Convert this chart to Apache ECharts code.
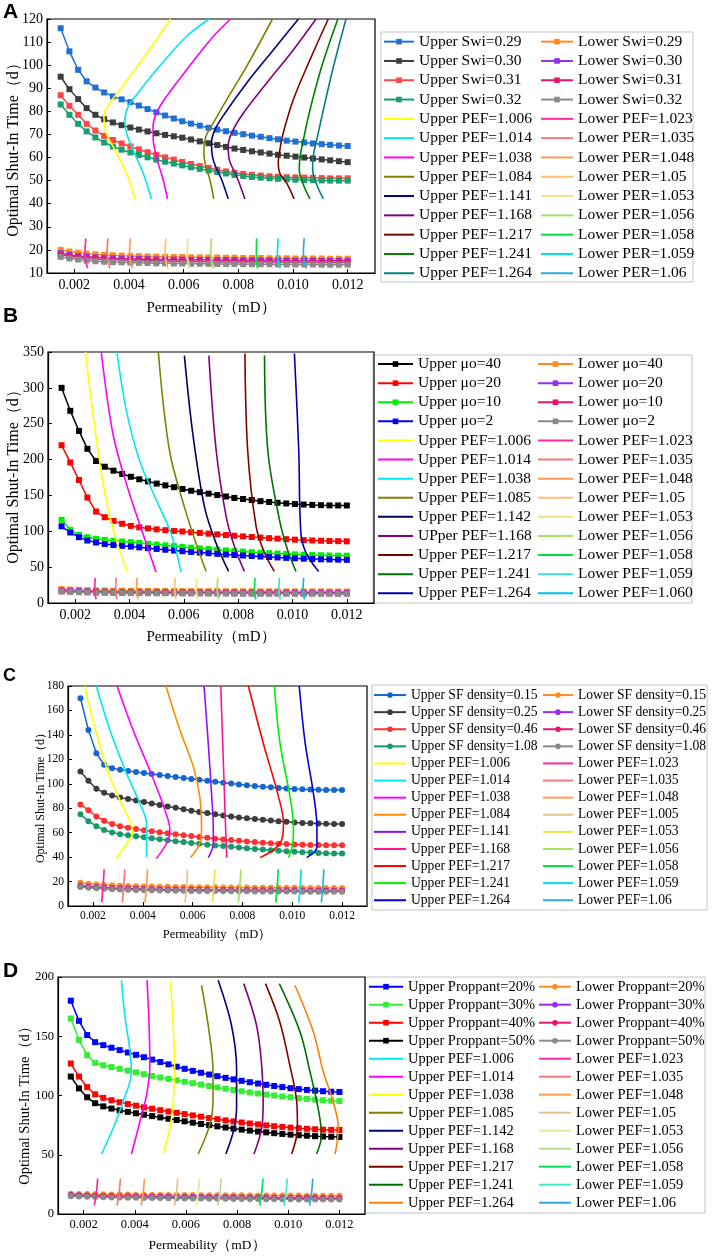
<!DOCTYPE html>
<html><head><meta charset="utf-8">
<script src="https://cdn.jsdelivr.net/npm/echarts@6/dist/echarts.min.js"></script>
<style>
html,body{margin:0;padding:0;background:#fff;}
body{width:713px;height:1257px;position:relative;overflow:hidden;}
.p{position:absolute;left:0;width:713px;}
</style></head><body>
<div id="pA" class="p" style="top:0;height:320px"></div>
<div id="pB" class="p" style="top:300px;height:345px"></div>
<div id="pC" class="p" style="top:610px;height:335px"></div>
<div id="pD" class="p" style="top:915px;height:342px"></div>
<script>
// ---------- shared x positions of the marker series ----------
const xPts = [0.0015,0.00182,0.00214,0.00245,0.00277,0.00309,0.00341,0.00373,0.00405,0.00436,
  0.00468,0.0050,0.00532,0.00564,0.00595,0.00627,0.00659,0.00691,0.00723,0.00755,
  0.00786,0.00818,0.0085,0.00882,0.00914,0.00945,0.00977,0.01009,0.01041,0.01073,
  0.01105,0.01136,0.01168,0.012];
const xTickVals = [0.002,0.004,0.006,0.008,0.010,0.012];

// ================= Panel A =================
const aUpNames = ['Upper Swi=0.29','Upper Swi=0.30','Upper Swi=0.31','Upper Swi=0.32'];
const aLoNames = ['Lower Swi=0.29','Lower Swi=0.30','Lower Swi=0.31','Lower Swi=0.32'];
const aUp029 = [116,106,98,93,90.3,88.2,86.5,85.2,84.0,82.5, 81.0,79.6,78.2,76.9,75.7,74.7,73.8,72.9,72.1,71.4, 70.7,70.1,69.5,69.0,68.4,67.9,67.3,66.9,66.5,66.1, 65.8,65.5,65.2,65.0];
const aUp030 = [95,89.6,85.3,81.4,78.5,76.6,75.2,74.0,73.0,72.1, 71.3,70.5,69.8,69.2,68.6,67.8,67.0,66.2,65.4,64.6, 63.9,63.3,62.7,62.2,61.7,61.2,60.8,60.4,60.0,59.6, 59.2,58.8,58.4,58.0];
const aUp031 = [87,82.4,78.5,74.6,71.7,69.4,67.6,66.1,64.8,63.5, 62.3,61.2,60.1,59.1,58.1,57.2,56.3,55.5,54.7,54.0, 53.4,52.9,52.5,52.2,51.9,51.7,51.5,51.4,51.3,51.2, 51.1,51.0,51.0,51.0];
const aUp032 = [83,78.5,74.6,71.3,68.7,66.5,64.8,63.4,62.2,61.1, 60.1,59.1,58.2,57.4,56.6,55.8,55.1,54.4,53.7,53.1, 52.5,52.0,51.6,51.3,51.0,50.8,50.6,50.4,50.3,50.2, 50.1,50.0,50.0,50.0];
const aLo029 = [20.0,19.3,18.8,18.4,18.1,17.9,17.7,17.5,17.4,17.3, 17.2,17.1,17.0,16.9,16.9,16.8,16.8,16.7,16.7,16.6, 16.6,16.5,16.5,16.5,16.4,16.4,16.4,16.3,16.3,16.3, 16.3,16.2,16.2,16.2];
const aLo030 = [18.6,17.9,17.4,17.1,16.8,16.6,16.4,16.3,16.2,16.1, 16.0,15.9,15.9,15.8,15.8,15.7,15.7,15.7,15.6,15.6, 15.6,15.5,15.5,15.5,15.5,15.4,15.4,15.4,15.4,15.4, 15.3,15.3,15.3,15.3];
const aLo031 = [18.0,17.3,16.8,16.4,16.1,15.9,15.7,15.6,15.5,15.4, 15.3,15.2,15.2,15.1,15.1,15.0,15.0,15.0,14.9,14.9, 14.9,14.8,14.8,14.8,14.8,14.7,14.7,14.7,14.7,14.7, 14.6,14.6,14.6,14.6];
const aLo032 = [17.0,16.3,15.8,15.4,15.1,14.9,14.7,14.6,14.5,14.4, 14.3,14.2,14.2,14.1,14.1,14.0,14.0,14.0,13.9,13.9, 13.9,13.8,13.8,13.8,13.8,13.7,13.7,13.7,13.7,13.7, 13.6,13.6,13.6,13.6];
const aPefUpNames = ['Upper PEF=1.006','Upper PEF=1.014','Upper PEF=1.038','Upper PEF=1.084','Upper PEF=1.141','Upper PEF=1.168','Upper PEF=1.217','Upper PEF=1.241','Upper PEF=1.264'];
const aPefLoNames = ['Lower PEF=1.023','Lower PER=1.035','Lower PER=1.048','Lower PER=1.05','Lower PER=1.053','Lower PER=1.056','Lower PER=1.058','Lower PER=1.059','Lower PER=1.06'];
const aPefUp = [
 [[0.00421,42.1],[0.00391,53.2],[0.00348,63.3],[0.00317,70.5],[0.00308,77.8],[0.0033,83.5],[0.00366,89.3],[0.00439,100.8],[0.005,110.9],[0.00552,120]],
 [[0.00482,42.1],[0.00452,53.2],[0.00415,63.3],[0.00391,70.5],[0.00385,76.3],[0.00397,82.1],[0.00427,87.1],[0.005,97.9],[0.0061,112.4],[0.00693,120]],
 [[0.00541,42.1],[0.00525,50.4],[0.005,60.5],[0.00488,69.1],[0.00488,73.4],[0.005,79.2],[0.00537,86.4],[0.0061,97.9],[0.00708,112.4],[0.00772,120]],
 [[0.0071,42.1],[0.00696,50.4],[0.00678,57.6],[0.00674,63.4],[0.00681,69.1],[0.00708,74.9],[0.00757,85.0],[0.0083,99.4],[0.00925,120]],
 [[0.00763,42.1],[0.00739,50.4],[0.00708,59.0],[0.00702,66.2],[0.00714,72.0],[0.00751,79.2],[0.0083,92.2],[0.00928,106.6],[0.0102,120]],
 [[0.00824,42.1],[0.00794,51.8],[0.00767,59.0],[0.00763,64.8],[0.00775,70.5],[0.00818,79.2],[0.00903,92.2],[0.01001,106.6],[0.01084,120]],
 [[0.01004,42.1],[0.00977,48.9],[0.00952,53.2],[0.00946,57.6],[0.00952,63.4],[0.00964,70.5],[0.01001,85.0],[0.01062,102.3],[0.01129,120]],
 [[0.01062,42.1],[0.01038,48.2],[0.01023,54.7],[0.01026,60.5],[0.01038,67.7],[0.01062,80.6],[0.01105,99.4],[0.01164,120]],
 [[0.01111,42.1],[0.01087,48.2],[0.01072,54.7],[0.01074,60.5],[0.01087,67.7],[0.01111,80.6],[0.01148,99.4],[0.01194,120]]
];
const aPefLo = [
 [[0.00242,25],[0.00239,19],[0.00242,15],[0.00249,12]],
 [[0.00323,25],[0.0032,19],[0.00323,15],[0.0033,12]],
 [[0.00405,25],[0.00402,19],[0.00405,15],[0.00412,12]],
 [[0.00535,25],[0.00532,19],[0.00535,15],[0.00542,12]],
 [[0.00616,25],[0.00613,19],[0.00616,15],[0.00623,12]],
 [[0.00702,25],[0.00699,19],[0.00702,15],[0.00709,12]],
 [[0.00867,25],[0.00866,19],[0.00867,15],[0.0087,12]],
 [[0.00946,25],[0.00943,19],[0.00946,15],[0.00953,12]],
 [[0.01041,25],[0.01038,19],[0.01041,15],[0.01048,12]]
];

// ================= Panel B =================
const bUpNames = ['Upper μo=40','Upper μo=20','Upper μo=10','Upper μo=2'];
const bLoNames = ['Lower μo=40','Lower μo=20','Lower μo=10','Lower μo=2'];
const bUp40 = [300,268,240,215,198,190,184.5,180,176,172.5, 169.5,166.5,164,161.5,159,156.5,154.5,152.5,150.5,148.5, 146.5,145,143.5,142,140.8,139.7,138.8,138,137.3,136.8, 136.4,136.1,136.0,136.0];
const bUp20 = [220,196,171.5,147,127.5,119.6,114.5,110.5,107.5,105.5, 104,102.7,101.5,100.5,99.7,98.7,97.7,96.7,95.7,94.7, 93.8,92.9,92.0,91.2,90.4,89.7,89.0,88.3,87.7,87.2, 86.8,86.5,86.2,86.0];
const bUp10 = [116,102,95,91.8,89.5,88,86.8,85.8,84.8,83.7, 82.6,81.5,80.4,79.3,78.2,77.2,76.2,75.2,74.3,73.4, 72.5,71.7,70.9,70.2,69.5,68.9,68.3,67.8,67.3,66.9, 66.6,66.3,66.1,66.0];
const bUp2 = [107,98.3,91.8,87.1,84.4,82.2,80.8,79.7,78.7,77.6, 76.5,75.4,74.3,73.2,72.2,71.2,70.3,69.4,68.5,67.7, 66.9,66.2,65.5,64.8,64.1,63.5,62.9,62.3,61.8,61.4, 61.0,60.7,60.4,60.2];
const bLo40 = [19.5,18.9,18.4,18.0,17.7,17.5,17.3,17.2,17.1,17.0, 16.9,16.8,16.8,16.7,16.7,16.6,16.6,16.5,16.5,16.5, 16.4,16.4,16.4,16.3,16.3,16.3,16.2,16.2,16.2,16.1, 16.1,16.1,16.0,16.0];
const bLo20 = [17.5,17.0,16.6,16.2,15.9,15.7,15.5,15.4,15.3,15.2, 15.1,15.0,15.0,14.9,14.9,14.8,14.8,14.7,14.7,14.7, 14.6,14.6,14.6,14.5,14.5,14.5,14.5,14.4,14.4,14.4, 14.4,14.4,14.3,14.3];
const bLo10 = [16.5,16.0,15.6,15.2,14.9,14.7,14.5,14.4,14.3,14.2, 14.1,14.0,14.0,13.9,13.9,13.8,13.8,13.7,13.7,13.7, 13.6,13.6,13.6,13.5,13.5,13.5,13.5,13.4,13.4,13.4, 13.4,13.4,13.3,13.3];
const bLo2 = [16.0,15.5,15.1,14.7,14.4,14.2,14.0,13.9,13.8,13.7, 13.6,13.5,13.5,13.4,13.4,13.3,13.3,13.2,13.2,13.2, 13.1,13.1,13.1,13.0,13.0,13.0,13.0,12.9,12.9,12.9, 12.9,12.9,12.8,12.8];
const bPefUpNames = ['Upper PEF=1.006','Upper PEF=1.014','Upper PEF=1.038','Upper PEF=1.085','Upper PEF=1.142','UPper PEF=1.168','Upper PEF=1.217','Upper PEF=1.241','Upper PEF=1.264'];
const bPefLoNames = ['Lower PEF=1.023','Lower PEF=1.035','Lower PEF=1.048','Lower PEF=1.05','Lower PEF=1.053','Lower PEF=1.056','Lower PEF=1.058','Lower PEF=1.059','Lower PEF=1.060'];
const bPefUp = [
 [[0.00238,350],[0.00259,283],[0.00284,213],[0.00314,144],[0.00351,88],[0.00392,43]],
 [[0.00296,350],[0.00339,236],[0.00388,167],[0.00449,97],[0.00498,43]],
 [[0.00354,350],[0.00388,269],[0.00437,199],[0.00498,144],[0.00553,97],[0.0059,43]],
 [[0.00506,350],[0.00547,213],[0.00602,134],[0.00645,83],[0.00682,44]],
 [[0.00602,345],[0.00633,236],[0.00676,134],[0.00719,83],[0.00765,44]],
 [[0.00692,345],[0.00719,213],[0.00756,120],[0.00786,79],[0.00823,44]],
 [[0.00825,348],[0.00835,213],[0.00866,107],[0.00897,70],[0.00933,44]],
 [[0.00897,345],[0.00909,213],[0.00952,116],[0.00982,74],[0.01013,44]],
 [[0.01007,348],[0.01023,213],[0.01031,97],[0.0105,70],[0.01096,44]]
];
const bPefLo = [
 [[0.00274,35],[0.00272,20],[0.00277,5]],
 [[0.00351,35],[0.00349,20],[0.00354,5]],
 [[0.00428,35],[0.00426,20],[0.00431,5]],
 [[0.00568,35],[0.00566,20],[0.00571,5]],
 [[0.00648,35],[0.00646,20],[0.00651,5]],
 [[0.00725,35],[0.00723,20],[0.00728,5]],
 [[0.00862,35],[0.0086,20],[0.00865,5]],
 [[0.00952,35],[0.0095,20],[0.00955,5]],
 [[0.01041,35],[0.01039,20],[0.01044,5]]
];

// ================= Panel C =================
const cUpNames = ['Upper SF density=0.15','Upper SF density=0.25','Upper SF density=0.46','Upper SF density=1.08'];
const cLoNames = ['Lower SF density=0.15','Lower SF density=0.25','Lower SF density=0.46','Lower SF density=1.08'];
const cUp015 = [170,144,125,115.5,112.8,111.5,110.5,109.6,108.8,108.0, 107.2,106.4,105.6,104.8,104.0,103.2,102.4,101.6,100.9,100.2, 99.5,98.8,98.2,97.6,97.1,96.6,96.2,95.8,95.5,95.3, 95.1,95.0,95.0,95.0];
const cUp025 = [110,102.4,96,92.6,90.4,88.8,87.5,86.3,85.1,83.9, 82.7,81.5,80.3,79.1,78.0,77.0,76.0,75.0,74.1,73.3, 72.5,71.8,71.1,70.5,69.9,69.4,68.9,68.4,68.0,67.7, 67.4,67.2,67.0,67.0];
const cUp046 = [83,78.4,73.2,69.8,67.0,65.3,64.0,62.9,62.0,61.1, 60.3,59.5,58.7,57.9,57.2,56.5,55.8,55.1,54.5,53.9, 53.3,52.8,52.3,51.8,51.4,51.0,50.7,50.4,50.2,50.0, 49.9,49.8,49.8,49.8];
const cUp108 = [75,69.4,65.3,62.2,60.2,58.8,57.8,57.0,56.2,55.4, 54.6,53.8,53.0,52.3,51.6,50.9,50.2,49.6,49.0,48.4, 47.8,47.2,46.7,46.2,45.7,45.2,44.8,44.4,44.0,43.7, 43.4,43.2,43.0,43.0];
const cLo015 = [19.0,18.2,17.6,17.2,16.9,16.6,16.4,16.2,16.0,15.9, 15.8,15.7,15.6,15.5,15.4,15.4,15.3,15.3,15.2,15.2, 15.1,15.1,15.0,15.0,15.0,14.9,14.9,14.9,14.8,14.8, 14.8,14.8,14.7,14.7];
const cLo025 = [16.5,16.0,15.5,15.1,14.8,14.5,14.3,14.1,13.9,13.8, 13.7,13.6,13.5,13.4,13.3,13.3,13.2,13.2,13.1,13.1, 13.0,13.0,12.9,12.9,12.9,12.8,12.8,12.8,12.7,12.7, 12.7,12.7,12.6,12.6];
const cLo046 = [16.0,15.5,15.0,14.6,14.3,14.0,13.8,13.6,13.4,13.3, 13.2,13.1,13.0,12.9,12.8,12.8,12.7,12.7,12.6,12.6, 12.5,12.5,12.4,12.4,12.4,12.3,12.3,12.3,12.2,12.2, 12.2,12.2,12.1,12.1];
const cLo108 = [15.5,15.0,14.5,14.1,13.8,13.5,13.3,13.1,12.9,12.8, 12.7,12.6,12.5,12.4,12.3,12.3,12.2,12.2,12.1,12.1, 12.0,12.0,11.9,11.9,11.9,11.8,11.8,11.8,11.7,11.7, 11.7,11.7,11.6,11.6];
const cPefUpNames = ['Upper PEF=1.006','Upper PEF=1.014','Upper PEF=1.038','Upper PEF=1.084','Upper PEF=1.141','Upper PEF=1.168','Upper PEF=1.217','Upper PEF=1.241','Upper PEF=1.264'];
const cPefLoNames = ['Lower PEF=1.023','Lower PEF=1.035','Lower PEF=1.048','Lower PEF=1.005','Lower PEF=1.053','Lower PEF=1.056','Lower PEF=1.058','Lower PEF=1.059','Lower PEF=1.06'];
const cPefUp = [
 [[0.00167,180],[0.00214,141.2],[0.00268,105.7],[0.00321,81.1],[0.00357,64.7],[0.00359,59.3],[0.00335,51.1],[0.00294,38.8]],
 [[0.00214,180],[0.00268,144],[0.00335,108.4],[0.00388,83.9],[0.00415,67.5],[0.00415,53.8],[0.00415,40.1]],
 [[0.00297,180],[0.00361,144],[0.00428,111.2],[0.00489,78.4],[0.00509,62],[0.00502,53.8],[0.00455,38.8]],
 [[0.00493,180],[0.00549,144],[0.00603,113.9],[0.00629,89.3],[0.00636,64.7],[0.00629,51.1],[0.00592,39.6]],
 [[0.00646,180],[0.00663,133],[0.00676,92],[0.00683,64.7],[0.00683,51.1],[0.00663,39.6]],
 [[0.00713,180],[0.00721,133],[0.0073,78.4],[0.00737,39.6]],
 [[0.00824,180],[0.00884,133],[0.00945,89.3],[0.00965,67.5],[0.00951,51.1],[0.00871,39.6]],
 [[0.00928,180],[0.00951,133],[0.00991,89.3],[0.01005,64.7],[0.01002,51.1],[0.00985,39.6]],
 [[0.01028,180],[0.01052,133],[0.01085,92],[0.01099,64.7],[0.01099,48.3],[0.01058,39.6]]
];
const cPefLo = [
 [[0.00245,30],[0.00241,17],[0.00235,3]],
 [[0.00328,30],[0.00324,17],[0.00318,3]],
 [[0.00419,30],[0.00415,17],[0.00409,3]],
 [[0.0058,30],[0.00576,17],[0.0057,3]],
 [[0.0069,30],[0.00686,17],[0.0068,3]],
 [[0.00794,30],[0.0079,17],[0.00784,3]],
 [[0.00944,30],[0.0094,17],[0.00934,3]],
 [[0.01036,30],[0.01032,17],[0.01026,3]],
 [[0.01127,30],[0.01123,17],[0.01117,3]]
];

// ================= Panel D =================
const dUpNames = ['Upper Proppant=20%','Upper Proppant=30%','Upper Proppant=40%','Upper Proppant=50%'];
const dLoNames = ['Lower Proppant=20%','Lower Proppant=30%','Lower Proppant=40%','Lower Proppant=50%'];
const dUp20 = [180,163,151,145,142.5,140.3,138.3,136.3,134.3,132.3, 130.3,128.3,126.3,124.3,122.5,120.8,119.2,117.7,116.3,114.9, 113.6,112.4,111.2,110.1,109.0,108.0,107.1,106.2,105.4,104.7, 104.1,103.6,103.2,103.0];
const dUp30 = [165,147,134,127.5,125.5,124,122.5,121,119.5,118, 116.5,115.2,114,112.8,111.6,110.4,109.2,108,106.8,105.7, 104.6,103.6,102.6,101.7,100.8,100.0,99.2,98.5,97.8,97.1, 96.5,96.0,95.6,95.3];
const dUp40 = [127,116,107,101,98,96,94.3,92.8,91.4,90.0, 88.8,87.6,86.5,85.4,84.3,83.2,82.1,81.0,80.0,79.0, 78.1,77.2,76.4,75.6,74.8,74.1,73.5,72.9,72.4,71.9, 71.5,71.2,71.0,70.9];
const dUp50 = [116,106,98.5,93.5,90.8,89.0,87.5,86.2,85.0,83.8, 82.6,81.5,80.4,79.3,78.2,77.1,76.0,75.0,74.0,73.0, 72.1,71.2,70.4,69.6,68.9,68.2,67.6,67.0,66.5,66.1, 65.7,65.4,65.2,65.0];
const dLo20 = [17.0,16.9,16.8,16.7,16.6,16.5,16.5,16.4,16.3,16.3, 16.2,16.2,16.1,16.1,16.0,16.0,15.9,15.9,15.9,15.8, 15.8,15.8,15.7,15.7,15.7,15.6,15.6,15.6,15.6,15.5, 15.5,15.5,15.5,15.4];
const dLo30 = [16.0,15.8,15.6,15.4,15.2,15.1,15.0,14.9,14.8,14.7, 14.6,14.5,14.5,14.4,14.4,14.3,14.3,14.2,14.2,14.1, 14.1,14.0,14.0,13.9,13.9,13.8,13.8,13.8,13.7,13.7, 13.7,13.6,13.6,13.6];
const dLo40 = [15.5,15.3,15.1,14.9,14.7,14.5,14.4,14.3,14.2,14.1, 14.0,13.9,13.8,13.7,13.6,13.5,13.5,13.4,13.3,13.3, 13.2,13.2,13.1,13.1,13.0,13.0,12.9,12.9,12.8,12.8, 12.8,12.7,12.7,12.7];
const dLo50 = [15.0,14.8,14.6,14.4,14.2,14.0,13.9,13.8,13.7,13.6, 13.5,13.4,13.3,13.2,13.1,13.0,13.0,12.9,12.8,12.8, 12.7,12.7,12.6,12.6,12.5,12.5,12.4,12.4,12.3,12.3, 12.3,12.2,12.2,12.2];
const dPefUpNames = ['Upper PEF=1.006','Upper PEF=1.014','Upper PEF=1.038','Upper PEF=1.085','Upper PEF=1.142','Upper PEF=1.168','Upper PEF=1.217','Upper PEF=1.241','Upper PEF=1.264'];
const dPefLoNames = ['Lower PEF=1.023','Lower PEF=1.035','Lower PEF=1.048','Lower PEF=1.05','Lower PEF=1.053','Lower PEF=1.056','Lower PEF=1.058','Lower PEF=1.059','Lower PEF=1.06'];
const dPefUp = [
 [[0.0027,50.6],[0.00315,72.2],[0.00354,94.7],[0.00387,119.9],[0.0038,139.6],[0.00361,167.7],[0.00348,197.2]],
 [[0.00387,50.6],[0.0042,77.8],[0.00446,100.3],[0.00459,125.6],[0.00456,159.3],[0.00448,197.2]],
 [[0.00511,50.6],[0.00537,72.2],[0.0055,94.7],[0.00556,125.6],[0.0055,159.3],[0.0054,195.8]],
 [[0.00648,50.6],[0.00693,75],[0.00706,94.7],[0.00706,120],[0.00687,159.3],[0.00661,193]],
 [[0.00756,50.6],[0.00785,69.4],[0.00798,89],[0.00798,122.8],[0.00778,159.3],[0.00726,197.2]],
 [[0.00866,50.6],[0.00896,72.2],[0.00902,94.7],[0.00896,125.6],[0.00876,159.3],[0.00826,194.4]],
 [[0.01013,50.6],[0.01036,72.2],[0.01033,94.7],[0.01006,125.6],[0.00967,162.1],[0.00911,194.4]],
 [[0.01111,50.6],[0.0113,66.6],[0.01117,89],[0.01085,120],[0.01046,153.7],[0.00965,194.4]],
 [[0.01183,50.6],[0.01196,72.2],[0.01176,94.7],[0.01137,120],[0.01098,153.7],[0.01026,193]]
];
const dPefLo = [
 [[0.00255,30],[0.0025,18],[0.00242,7]],
 [[0.00344,30],[0.00339,18],[0.00331,7]],
 [[0.00438,30],[0.00433,18],[0.00425,7]],
 [[0.00568,30],[0.00563,18],[0.00555,7]],
 [[0.00653,30],[0.00648,18],[0.0064,7]],
 [[0.00738,30],[0.00733,18],[0.00725,7]],
 [[0.00901,30],[0.00896,18],[0.00888,7]],
 [[0.00996,30],[0.00991,18],[0.00983,7]],
 [[0.01096,30],[0.01091,18],[0.01083,7]]
];

// ---------- colours ----------
const loMarkColors = ['#ff8a1e','#9030f0','#e8156c','#8a8a8a'];
const aUpColors = ['#1f6fd6','#3c3c3c','#ff4646','#17a06e'];
const aPefUpColors = ['#ffff00','#00e8f0','#ff00ff','#808000','#000080','#800080','#800000','#008000','#008080'];
const aPefLoColors = ['#ff2a9d','#f47a7a','#ff9a50','#ffc070','#ece28a','#a8e060','#00e040','#00e0e8','#30a8e8'];
const bUpColors = ['#000000','#ff0000','#00ee00','#0000ff'];
const bPefUpColors = ['#ffff00','#ff00ff','#00e8f0','#808000','#00005a','#800080','#800000','#007000','#0000a8'];
const bPefLoColors = ['#ff2a9d','#f47a7a','#ff9a50','#ffc070','#ece28a','#a8e060','#00e040','#40e0d0','#00c0f0'];
const cUpColors = ['#1565d0','#3c3c3c','#ff3030','#169a68'];
const cPefUpColors = ['#ffff00','#00e8f0','#ff00ff','#ff8c00','#9010f0','#ff1493','#ff0000','#00ee00','#0000e0'];
const cPefLoColors = ['#ff2a9d','#f47a7a','#ff9a50','#e8c090','#f0e040','#a8e060','#00e040','#00e0e8','#30a8e8'];
const dUpColors = ['#0000ff','#33ee33','#ff0000','#000000'];
const dPefUpColors = ['#00e8f0','#ff00ff','#ffff00','#808000','#000080','#800080','#800000','#007000','#ff8000'];
const dPefLoColors = ['#ff2a9d','#f47a7a','#ff9a50','#e8c090','#e8e8a0','#b8dc90','#00e060','#40e8d0','#30a8e8'];

const SERIF = '"Liberation Serif","Times New Roman",serif';
const SANS = '"Liberation Sans",Arial,sans-serif';

function makePanel(domId, c) {
  const chart = echarts.init(document.getElementById(domId));
  const series = [];
  c.upVals.forEach((vals, i) => series.push({
    type:'line', name:c.upNames[i], data:xPts.map((x,k)=>[x, vals[k]]),
    symbol:c.upSym, symbolSize:c.symSize, lineStyle:{color:c.upColors[i], width:1.5},
    itemStyle:{color:c.upColors[i]}, z:2
  }));
  c.loVals.forEach((vals, i) => series.push({
    type:'line', name:c.loNames[i], data:xPts.map((x,k)=>[x, vals[k]]),
    symbol:c.loSym, symbolSize:c.symSize, lineStyle:{color:loMarkColors[i], width:1.5},
    itemStyle:{color:loMarkColors[i]}, z:2
  }));
  c.pefUp.forEach((curve, i) => series.push({
    type:'line', name:c.pefUpNames[i], data:curve, symbol:'none', smooth:0.35,
    lineStyle:{color:c.pefUpColors[i], width:1.6}, itemStyle:{color:c.pefUpColors[i]}, z:3
  }));
  c.pefLo.forEach((curve, i) => series.push({
    type:'line', name:c.pefLoNames[i], data:curve, symbol:'none', smooth:0.35,
    lineStyle:{color:c.pefLoColors[i], width:1.7}, itemStyle:{color:c.pefLoColors[i]}, z:4
  }));
  const plain = n => ({name:n, itemStyle:{color:'rgba(0,0,0,0)', borderColor:'rgba(0,0,0,0)', borderWidth:0}});
  const lgBase = {orient:'vertical', top:c.lg.top, padding:0, itemGap:0, itemHeight:7,
    selectedMode:false, textStyle:{fontFamily:SERIF, fontSize:c.lg.fs, lineHeight:c.lg.rh, color:'#000'}};
  const option = {
    animation:false, backgroundColor:'transparent',
    grid:{left:c.grid[0], top:c.grid[1], width:c.grid[2], height:c.grid[3], show:true,
      borderColor:'#000', borderWidth:1.2, backgroundColor:'transparent'},
    xAxis:{type:'value', min:0.001, max:0.013,
      axisLine:{lineStyle:{color:'#000', width:1.2}},
      axisTick:{inside:true, length:4, customValues:xTickVals, lineStyle:{color:'#000'}},
      axisLabel:{customValues:xTickVals, formatter:v=>v.toFixed(3), color:'#000',
        fontFamily:SERIF, fontSize:c.tickFs, margin:c.xMargin},
      splitLine:{show:false}},
    yAxis:{type:'value', min:c.y[0], max:c.y[1], interval:c.y[2],
      axisLine:{show:true, lineStyle:{color:'#000', width:1.2}},
      axisTick:{show:true, inside:true, length:4, lineStyle:{color:'#000'}},
      axisLabel:{color:'#000', fontFamily:SERIF, fontSize:c.tickFs, margin:c.yMargin},
      splitLine:{show:false}},
    legend:[
      Object.assign({}, lgBase, {left:c.lg.l1, itemWidth:c.lg.w1,
        data:c.upNames.concat(c.pefUpNames.map(plain))}),
      Object.assign({}, lgBase, {left:c.lg.l2, itemWidth:c.lg.w2,
        data:c.loNames.concat(c.pefLoNames.map(plain))})
    ],
    graphic:[
      {type:'rect', shape:{x:c.box[0], y:c.box[1], width:c.box[2], height:c.box[3]},
        style:{fill:'none', stroke:'#c4c4c4', lineWidth:1}, z:-1, silent:true},
      {type:'text', x:c.letter[0], y:c.letter[1], silent:true,
        style:{text:c.letter[2], fontFamily:SANS, fontWeight:'bold', fontSize:c.letter[3], fill:'#000'}},
      {type:'text', x:c.xName[0], y:c.xName[1], silent:true,
        style:{text:'Permeability（mD）', fontFamily:SERIF, fontSize:c.xName[2], fill:'#000',
          align:'center', verticalAlign:'middle'}},
      {type:'text', x:c.yName[0], y:c.yName[1], rotation:Math.PI/2, silent:true,
        style:{text:'Optimal Shut-In Time（d）', fontFamily:SERIF, fontSize:c.yName[2], fill:'#000',
          align:'center', verticalAlign:'middle'}}
    ],
    series:series
  };
  chart.setOption(option);
}

makePanel('pA', {
  grid:[47,19,328,254], y:[10,120,10], tickFs:14, xMargin:5, yMargin:4,
  letter:[3,2,'A',21], xName:[211,308,15], yName:[14,146,16],
  lg:{l1:383, w1:30, l2:540, w2:32, top:32, rh:19.3, fs:15.5}, box:[381,32,312,250],
  upNames:aUpNames, loNames:aLoNames, upVals:[aUp029,aUp030,aUp031,aUp032], loVals:[aLo029,aLo030,aLo031,aLo032],
  upColors:aUpColors, upSym:'rect', loSym:'rect', symSize:6,
  pefUp:aPefUp, pefUpNames:aPefUpNames, pefUpColors:aPefUpColors,
  pefLo:aPefLo, pefLoNames:aPefLoNames, pefLoColors:aPefLoColors
});
makePanel('pB', {
  grid:[48,52,326,251], y:[0,350,50], tickFs:14, xMargin:5, yMargin:4,
  letter:[3,6,'B',21], xName:[211,337,15], yName:[14,173,16],
  lg:{l1:377, w1:35, l2:537, w2:35, top:54.5, rh:19.1, fs:15.5}, box:[373,55,319,248],
  upNames:bUpNames, loNames:bLoNames, upVals:[bUp40,bUp20,bUp10,bUp2], loVals:[bLo40,bLo20,bLo10,bLo2],
  upColors:bUpColors, upSym:'rect', loSym:'rect', symSize:6,
  pefUp:bPefUp, pefUpNames:bPefUpNames, pefUpColors:bPefUpColors,
  pefLo:bPefLo, pefLoNames:bPefLoNames, pefLoColors:bPefLoColors
});
makePanel('pC', {
  grid:[68,76,299,220], y:[0,180,20], tickFs:11.5, xMargin:4, yMargin:4,
  letter:[3,57,'C',18], xName:[217,325,12.5], yName:[41,185,12],
  lg:{l1:373, w1:32, l2:542, w2:30, top:76.5, rh:17.1, fs:13.6}, box:[372,75,335,225],
  upNames:cUpNames, loNames:cLoNames, upVals:[cUp015,cUp025,cUp046,cUp108], loVals:[cLo015,cLo025,cLo046,cLo108],
  upColors:cUpColors, upSym:'circle', loSym:'circle', symSize:6,
  pefUp:cPefUp, pefUpNames:cPefUpNames, pefUpColors:cPefUpColors,
  pefLo:cPefLo, pefLoNames:cPefLoNames, pefLoColors:cPefLoColors
});
makePanel('pD', {
  grid:[58,62,307,237], y:[0,200,50], tickFs:12.5, xMargin:4, yMargin:4,
  letter:[3,46,'D',21], xName:[207,330,13.5], yName:[25,187,14.5],
  lg:{l1:368, w1:34, l2:538, w2:32, top:62.7, rh:18.0, fs:14.5}, box:[365,62,340,236],
  upNames:dUpNames, loNames:dLoNames, upVals:[dUp20,dUp30,dUp40,dUp50], loVals:[dLo20,dLo30,dLo40,dLo50],
  upColors:dUpColors, upSym:'rect', loSym:'circle', symSize:6,
  pefUp:dPefUp, pefUpNames:dPefUpNames, pefUpColors:dPefUpColors,
  pefLo:dPefLo, pefLoNames:dPefLoNames, pefLoColors:dPefLoColors
});
</script>
</body></html>
